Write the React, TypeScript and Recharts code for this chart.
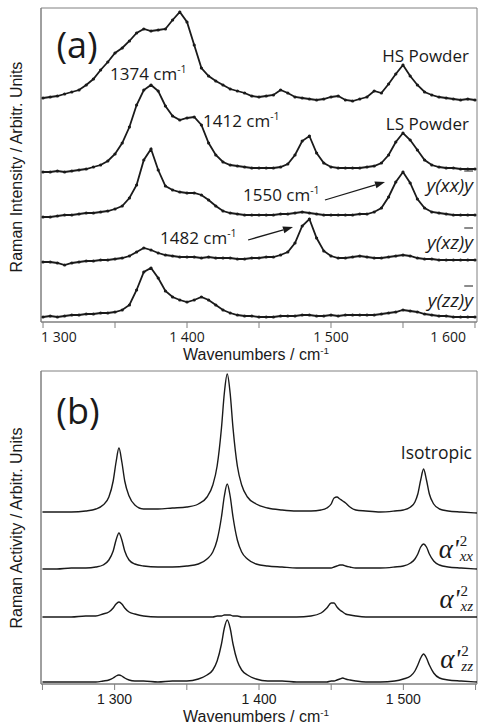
import React from 'react';
import { LineChart, Line, XAxis, YAxis, ReferenceArea, ReferenceLine } from 'recharts';

// (a) measured spectra, sampled every 5 cm-1 (offsets included)
const wavenumbersA = [
  1300, 1305, 1310, 1315, 1320, 1325, 1330, 1335, 1340, 1345, 1350, 1355, 1360, 1365, 1370, 1375,
  1380, 1385, 1390, 1395, 1400, 1405, 1410, 1415, 1420, 1425, 1430, 1435, 1440, 1445, 1450, 1455,
  1460, 1465, 1470, 1475, 1480, 1485, 1490, 1495, 1500, 1505, 1510, 1515, 1520, 1525, 1530, 1535,
  1540, 1545, 1550, 1555, 1560, 1565, 1570, 1575, 1580, 1585, 1590, 1595, 1600,
];
const hsPowder = [
  224, 225, 226, 228, 230, 232, 237, 243, 252, 260, 269, 274, 281, 289, 293, 291,
  292, 293, 302, 310, 300, 277, 254, 246, 241, 237, 233, 231, 229, 226, 225, 226,
  227, 232, 229, 225, 224, 223, 222, 223, 225, 226, 222, 221, 223, 225, 231, 229,
  238, 248, 257, 246, 237, 230, 227, 225, 224, 223, 222, 223, 222,
];
const lsPowder = [
  150, 150, 151, 150, 151, 152, 153, 155, 157, 161, 168, 179, 195, 217, 232, 237,
  231, 216, 206, 202, 204, 205, 197, 179, 167, 160, 157, 156, 155, 154, 154, 154,
  154, 155, 158, 167, 181, 186, 169, 159, 155, 154, 154, 154, 154, 155, 156, 159,
  167, 180, 189, 182, 172, 162, 157, 155, 154, 154, 153, 153, 153,
];
const yxxy = [
  105, 105, 106, 107, 107, 108, 109, 109, 110, 111, 113, 116, 124, 137, 162, 173,
  152, 136, 132, 130, 129, 129, 127, 122, 116, 111, 109, 108, 107, 107, 107, 107,
  107, 108, 108, 109, 110, 109, 108, 107, 107, 107, 107, 107, 108, 108, 110, 114,
  125, 140, 150, 139, 123, 114, 110, 109, 108, 107, 107, 107, 107,
];
const yxzy = [
  60, 60, 59, 57, 59, 60, 61, 61, 62, 62, 63, 64, 66, 70, 74, 72,
  69, 67, 66, 65, 65, 65, 64, 65, 64, 64, 64, 63, 63, 64, 64, 65,
  65, 67, 70, 79, 96, 103, 84, 71, 66, 64, 64, 65, 66, 65, 64, 64,
  65, 66, 67, 66, 64, 63, 63, 62, 62, 62, 62, 62, 62,
];
const yzzy = [
  5, 6, 5, 6, 7, 7, 8, 8, 9, 9, 10, 12, 17, 32, 50, 54,
  44, 31, 25, 22, 20, 22, 25, 22, 17, 12, 9, 7, 6, 6, 5, 5,
  5, 6, 6, 6, 7, 7, 6, 6, 7, 6, 7, 7, 7, 7, 7, 8,
  9, 10, 12, 11, 10, 8, 7, 6, 6, 5, 5, 5, 5,
];

// (b) calculated spectra
const wavenumbersB = [
  1250, 1260, 1270, 1280, 1287, 1292, 1296, 1299, 1301, 1303, 1305, 1307, 1310, 1314, 1320, 1330,
  1340, 1350, 1358, 1364, 1368, 1371, 1374, 1376, 1378, 1380, 1382, 1385, 1388, 1392, 1398, 1406,
  1416, 1426, 1436, 1443, 1447, 1450, 1452, 1454, 1456, 1458, 1460, 1463, 1467, 1474, 1484, 1494,
  1500, 1505, 1508, 1510, 1512, 1514, 1516, 1518, 1521, 1525, 1531, 1540, 1551,
];
const isotropic = [
  172, 172, 172, 173, 175, 179, 187, 203, 222, 236, 222, 203, 188, 179, 175, 175,
  176, 177, 180, 187, 199, 218, 256, 291, 310, 291, 256, 218, 199, 187, 180, 176,
  174, 173, 173, 174, 176, 180, 186, 187, 185, 183, 181, 177, 174, 173, 172, 173,
  174, 177, 182, 190, 204, 215, 204, 190, 180, 175, 173, 172, 171,
];
const alphaXX = [
  115, 115, 116, 116, 117, 119, 124, 133, 144, 151, 144, 133, 124, 120, 118, 117,
  117, 118, 120, 125, 132, 144, 167, 188, 200, 188, 167, 144, 132, 125, 120, 118,
  117, 116, 116, 116, 116, 116, 117, 118, 119, 119, 118, 117, 116, 116, 116, 117,
  118, 121, 125, 130, 137, 140, 137, 130, 123, 119, 117, 116, 115,
];
const alphaXZ = [
  67, 67, 67, 68, 68, 70, 72, 76, 80, 82, 80, 76, 72, 70, 68, 67,
  67, 67, 67, 67, 67, 68, 68, 69, 69, 69, 68, 68, 67, 67, 67, 67,
  67, 67, 68, 71, 76, 81, 81, 77, 74, 72, 70, 69, 68, 67, 67, 67,
  67, 67, 67, 67, 67, 67, 67, 67, 67, 67, 67, 67, 67,
];
const alphaZZ = [
  2, 2, 2, 2, 2, 3, 4, 6, 8, 9, 8, 6, 4, 3, 3, 2,
  3, 3, 5, 9, 14, 23, 40, 56, 64, 56, 40, 23, 14, 9, 5, 3,
  3, 2, 2, 2, 2, 3, 3, 4, 5, 6, 5, 4, 3, 2, 2, 3,
  5, 8, 13, 19, 26, 30, 26, 19, 11, 6, 4, 3, 2,
];

const ticksA = [1300, 1350, 1400, 1450, 1500, 1550, 1600];
const ticksB = [1250, 1300, 1350, 1400, 1450, 1500, 1550];

const dataA = wavenumbersA.map((wn, i) => ({
  wn, hs: hsPowder[i], ls: lsPowder[i], xx: yxxy[i], xz: yxzy[i], zz: yzzy[i],
}));
const dataB = wavenumbersB.map((wn, i) => ({
  wn, iso: isotropic[i], xx: alphaXX[i], xz: alphaXZ[i], zz: alphaZZ[i],
}));

const AXIS = '#808080';
const INK = '#1a1a1a';
const SANS = '"Liberation Sans", Arial, sans-serif';
const LABEL = '"Open Sans", sans-serif';

const fmtTick = (v: number) => (v % 100 === 0 ? `${Math.floor(v / 1000)} ${v % 1000}` : '');

// first and last labels of panel (a) are pushed inside the frame, as in the figure
function TickA(props: any) {
  const v = props.payload.value;
  const label = fmtTick(v);
  if (!label) return <g />;
  const anchor = v === ticksA[0] ? 'start' : v === ticksA[ticksA.length - 1] ? 'end' : 'middle';
  const dx = anchor === 'start' ? -2 : anchor === 'end' ? 2 : 0;
  return (
    <text x={props.x + dx} y={props.y} dy="0.71em" textAnchor={anchor} fill={INK} fontSize={14} fontFamily={LABEL}>
      {label}
    </text>
  );
}

function Arrow(props: any) {
  const { x1, y1, x2, y2 } = props;
  const a = Math.atan2(y2 - y1, x2 - x1);
  const len = 10;
  const w = 3.5;
  const bx = x2 - len * Math.cos(a);
  const by = y2 - len * Math.sin(a);
  const p1 = `${bx + w * Math.sin(a)},${by - w * Math.cos(a)}`;
  const p2 = `${bx - w * Math.sin(a)},${by + w * Math.cos(a)}`;
  return (
    <g>
      <line x1={x1} y1={y1} x2={bx} y2={by} stroke={INK} strokeWidth={1.3} />
      <polygon points={`${x2},${y2} ${p1} ${p2}`} fill={INK} />
    </g>
  );
}

function Note({ x, y, anchor = 'start', style, children }: any) {
  const tx = anchor === 'end' ? '-100%' : anchor === 'middle' ? '-50%' : '0';
  return (
    <div
      style={{
        position: 'absolute', left: x, top: y, transform: `translate(${tx}, -50%)`,
        whiteSpace: 'nowrap', lineHeight: 1, color: INK, fontFamily: LABEL, fontSize: 17, ...style,
      }}
    >
      {children}
    </div>
  );
}

const Sup = ({ children }: any) => (
  <sup style={{ fontSize: '0.62em', verticalAlign: '0.6em', lineHeight: 0 }}>{children}</sup>
);

function Pol({ a, b }: { a: string; b: string }) {
  return (
    <i>y({a}{b})<span style={{ textDecoration: 'overline' }}>y</span></i>
  );
}

function Alpha({ sub }: { sub: string }) {
  return (
    <span style={{ display: 'flex', alignItems: 'center', fontFamily: '"Liberation Serif", serif' }}>
      <i style={{ fontSize: 27, lineHeight: 1 }}>α'</i>
      <span style={{ display: 'flex', flexDirection: 'column', fontSize: 15, lineHeight: 1, marginLeft: 1 }}>
        <span>2</span>
        <i>{sub}</i>
      </span>
    </span>
  );
}

const dotStyle = { r: 1.6, fill: INK, stroke: 'none' };

export default function App() {
  return (
    <div style={{ position: 'absolute', left: 0, top: 0, width: 480, height: 726, background: '#fff' }}>
      <div style={{ position: 'absolute', left: 0, top: 0 }}>
        <LineChart width={480} height={370} data={dataA} margin={{ top: 8, right: 3, left: 0, bottom: 0 }}>
          <XAxis
            dataKey="wn" type="number" domain={[1298.6, 1601.4]} allowDataOverflow ticks={ticksA}
            height={48} tickSize={6} tickMargin={4}
            axisLine={{ stroke: AXIS }} tickLine={{ stroke: AXIS }} tick={TickA}
          />
          <YAxis domain={[0, 314]} allowDataOverflow width={41} tick={false} tickLine={false} axisLine={{ stroke: AXIS }} />
          <ReferenceArea x1={1298.6} x2={1601.4} y1={0} y2={314} fill="none" stroke={AXIS} strokeWidth={1} ifOverflow="visible" />
          <Line dataKey="hs" stroke={INK} strokeWidth={1.8} dot={dotStyle} isAnimationActive={false} />
          <Line dataKey="ls" stroke={INK} strokeWidth={1.8} dot={dotStyle} isAnimationActive={false} />
          <Line dataKey="xx" stroke={INK} strokeWidth={1.8} dot={dotStyle} isAnimationActive={false} />
          <Line dataKey="xz" stroke={INK} strokeWidth={1.8} dot={dotStyle} isAnimationActive={false} />
          <Line dataKey="zz" stroke={INK} strokeWidth={1.8} dot={dotStyle} isAnimationActive={false} />
          <ReferenceLine segment={[{ x: 1495.8, y: 122 }, { x: 1537.5, y: 140 }]} shape={Arrow} ifOverflow="visible" />
          <ReferenceLine segment={[{ x: 1442.4, y: 82 }, { x: 1473.6, y: 95 }]} shape={Arrow} ifOverflow="visible" />
        </LineChart>
      </div>
      <div style={{ position: 'absolute', left: 0, top: 370 }}>
        <LineChart width={480} height={356} data={dataB} margin={{ top: 1, right: 3, left: 0, bottom: 0 }}>
          <XAxis
            dataKey="wn" type="number" domain={[1249, 1551]} allowDataOverflow ticks={ticksB}
            tickFormatter={fmtTick} height={42} tickSize={6} tickMargin={4}
            axisLine={{ stroke: AXIS }} tickLine={{ stroke: AXIS }}
            tick={{ fill: INK, fontSize: 14, fontFamily: SANS }}
          />
          <YAxis domain={[0, 313]} allowDataOverflow width={41} tick={false} tickLine={false} axisLine={{ stroke: AXIS }} />
          <ReferenceArea x1={1249} x2={1551} y1={0} y2={313} fill="none" stroke={AXIS} strokeWidth={1} ifOverflow="visible" />
          <Line type="monotone" dataKey="iso" stroke={INK} strokeWidth={1.4} dot={false} isAnimationActive={false} />
          <Line type="monotone" dataKey="xx" stroke={INK} strokeWidth={1.4} dot={false} isAnimationActive={false} />
          <Line type="monotone" dataKey="xz" stroke={INK} strokeWidth={1.4} dot={false} isAnimationActive={false} />
          <Line type="monotone" dataKey="zz" stroke={INK} strokeWidth={1.4} dot={false} isAnimationActive={false} />
        </LineChart>
      </div>

      {/* axis titles */}
      <Note x={17} y={167} anchor="middle" style={{ fontFamily: SANS, fontSize: 16, transform: 'translate(-50%, -50%) rotate(-90deg)' }}>
        Raman Intensity / Arbitr. Units
      </Note>
      <Note x={256} y={355} anchor="middle" style={{ fontFamily: SANS, fontSize: 16 }}>
        Wavenumbers / cm<Sup>-1</Sup>
      </Note>
      <Note x={17} y={528} anchor="middle" style={{ fontFamily: SANS, fontSize: 16, transform: 'translate(-50%, -50%) rotate(-90deg)' }}>
        Raman Activity / Arbitr. Units
      </Note>
      <Note x={256} y={717} anchor="middle" style={{ fontFamily: SANS, fontSize: 16 }}>
        Wavenumbers / cm<Sup>-1</Sup>
      </Note>

      {/* panel (a) annotations */}
      <Note x={77} y={45} anchor="middle" style={{ fontSize: 36 }}>(a)</Note>
      <Note x={110} y={73}>1374 cm<Sup>-1</Sup></Note>
      <Note x={469} y={55} anchor="end">HS Powder</Note>
      <Note x={203} y={120}>1412 cm<Sup>-1</Sup></Note>
      <Note x={469} y={123} anchor="end">LS Powder</Note>
      <Note x={243} y={194}>1550 cm<Sup>-1</Sup></Note>
      <Note x={473} y={185} anchor="end" style={{ fontSize: 19 }}><Pol a="x" b="x" /></Note>
      <Note x={160} y={237}>1482 cm<Sup>-1</Sup></Note>
      <Note x={473} y={242} anchor="end" style={{ fontSize: 19 }}><Pol a="x" b="z" /></Note>
      <Note x={473} y={300} anchor="end" style={{ fontSize: 19 }}><Pol a="z" b="z" /></Note>

      {/* panel (b) annotations */}
      <Note x={78} y={411} anchor="middle" style={{ fontSize: 36 }}>(b)</Note>
      <Note x={472} y={453} anchor="end" style={{ fontSize: 17.5 }}>Isotropic</Note>
      <Note x={473} y={549} anchor="end"><Alpha sub="xx" /></Note>
      <Note x={473} y={599} anchor="end"><Alpha sub="xz" /></Note>
      <Note x={473} y={659} anchor="end"><Alpha sub="zz" /></Note>
    </div>
  );
}
